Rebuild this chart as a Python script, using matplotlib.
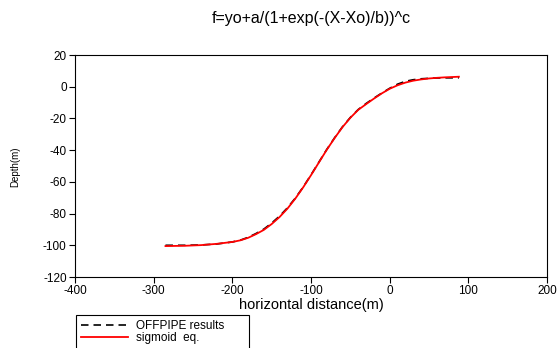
import matplotlib
matplotlib.use("Agg")
import matplotlib.pyplot as plt

plt.rcParams['font.family'] = ['Liberation Sans', 'DejaVu Sans']
plt.rcParams['axes.unicode_minus'] = False

# Data
offpipe_x = [-285, -260, -240, -220, -200, -190, -180, -170, -160, -150, -140, -130, -120, -110, -100,
             -90, -80, -70, -60, -50, -40, -30, -20, -10, 0, 10, 20, 30, 40, 50, 60, 70, 88]
offpipe_y = [-100.0, -100.0, -99.8, -99.2, -97.9, -96.8, -95.0, -92.6, -89.8, -86.0, -81.6, -76.4, -70.3, -63.3, -55.6,
             -47.6, -39.6, -32.2, -25.3, -19.4, -14.4, -10.6, -7.2, -4.0, -1.0, 1.6, 3.4, 4.4, 5.0, 5.3, 5.5, 5.6, 5.6]

sigmoid_x = [-285, -260, -240, -220, -200, -190, -180, -170, -160, -150, -140, -130, -120, -110, -100,
             -90, -80, -70, -60, -50, -40, -30, -20, -10, 0, 10, 20, 30, 40, 50, 60, 70, 88]
sigmoid_y = [-100.5, -100.3, -99.9, -99.1, -97.9, -96.9, -95.3, -93.0, -90.3, -86.6, -82.2, -76.9, -70.6, -63.5, -55.8,
             -47.8, -39.8, -32.4, -25.5, -19.6, -14.6, -11.0, -7.5, -4.2, -1.3, 0.9, 2.6, 3.8, 4.6, 5.2, 5.6, 5.9, 6.3]

title = "f=yo+a/(1+exp(-(X-Xo)/b))^c"
xlabel = "horizontal distance(m)"
ylabel = "Depth(m)"
legend_labels = ["OFFPIPE results", "sigmoid  eq."]

fig = plt.figure(figsize=(5.58, 3.48), dpi=100)
ax = fig.add_axes([75/558, 1-277/348, (547-75)/558, (277-55)/348])

ax.plot(offpipe_x, offpipe_y, color='black', linestyle=(0, (4.5, 3)), linewidth=1.2, label=legend_labels[0])
ax.plot(sigmoid_x, sigmoid_y, color='red', linewidth=1.3, label=legend_labels[1])

ax.set_xlim(-400, 200)
ax.set_ylim(-120, 20)
ax.set_xticks(range(-400, 201, 100))
ax.set_yticks(range(-120, 21, 20))
ax.tick_params(direction='out', length=4, width=0.8, labelsize=8.5, top=False, right=False, pad=2)
for s in ax.spines.values():
    s.set_linewidth(0.8)
    s.set_color('black')

fig.text(311/558, 1-18/348, title, ha='center', va='center', fontsize=11.5)
fig.text(311/558, 1-305/348, xlabel, ha='center', va='center', fontsize=10.5)
fig.text(15/558, 1-167/348, ylabel, rotation=90, ha='center', va='center', fontsize=7)

top = 1 - 315/348
leg = fig.legend(loc='upper left', bbox_to_anchor=(76/558, top - 0.2, (249-76)/558, 0.2),
                 mode='expand', borderaxespad=0, fontsize=8.5, handlelength=4.0,
                 frameon=True, fancybox=False, edgecolor='black', framealpha=1,
                 borderpad=0.4, labelspacing=0.05, handletextpad=0.7)
leg.get_frame().set_linewidth(0.8)

fig.savefig("out.png", dpi=100)
